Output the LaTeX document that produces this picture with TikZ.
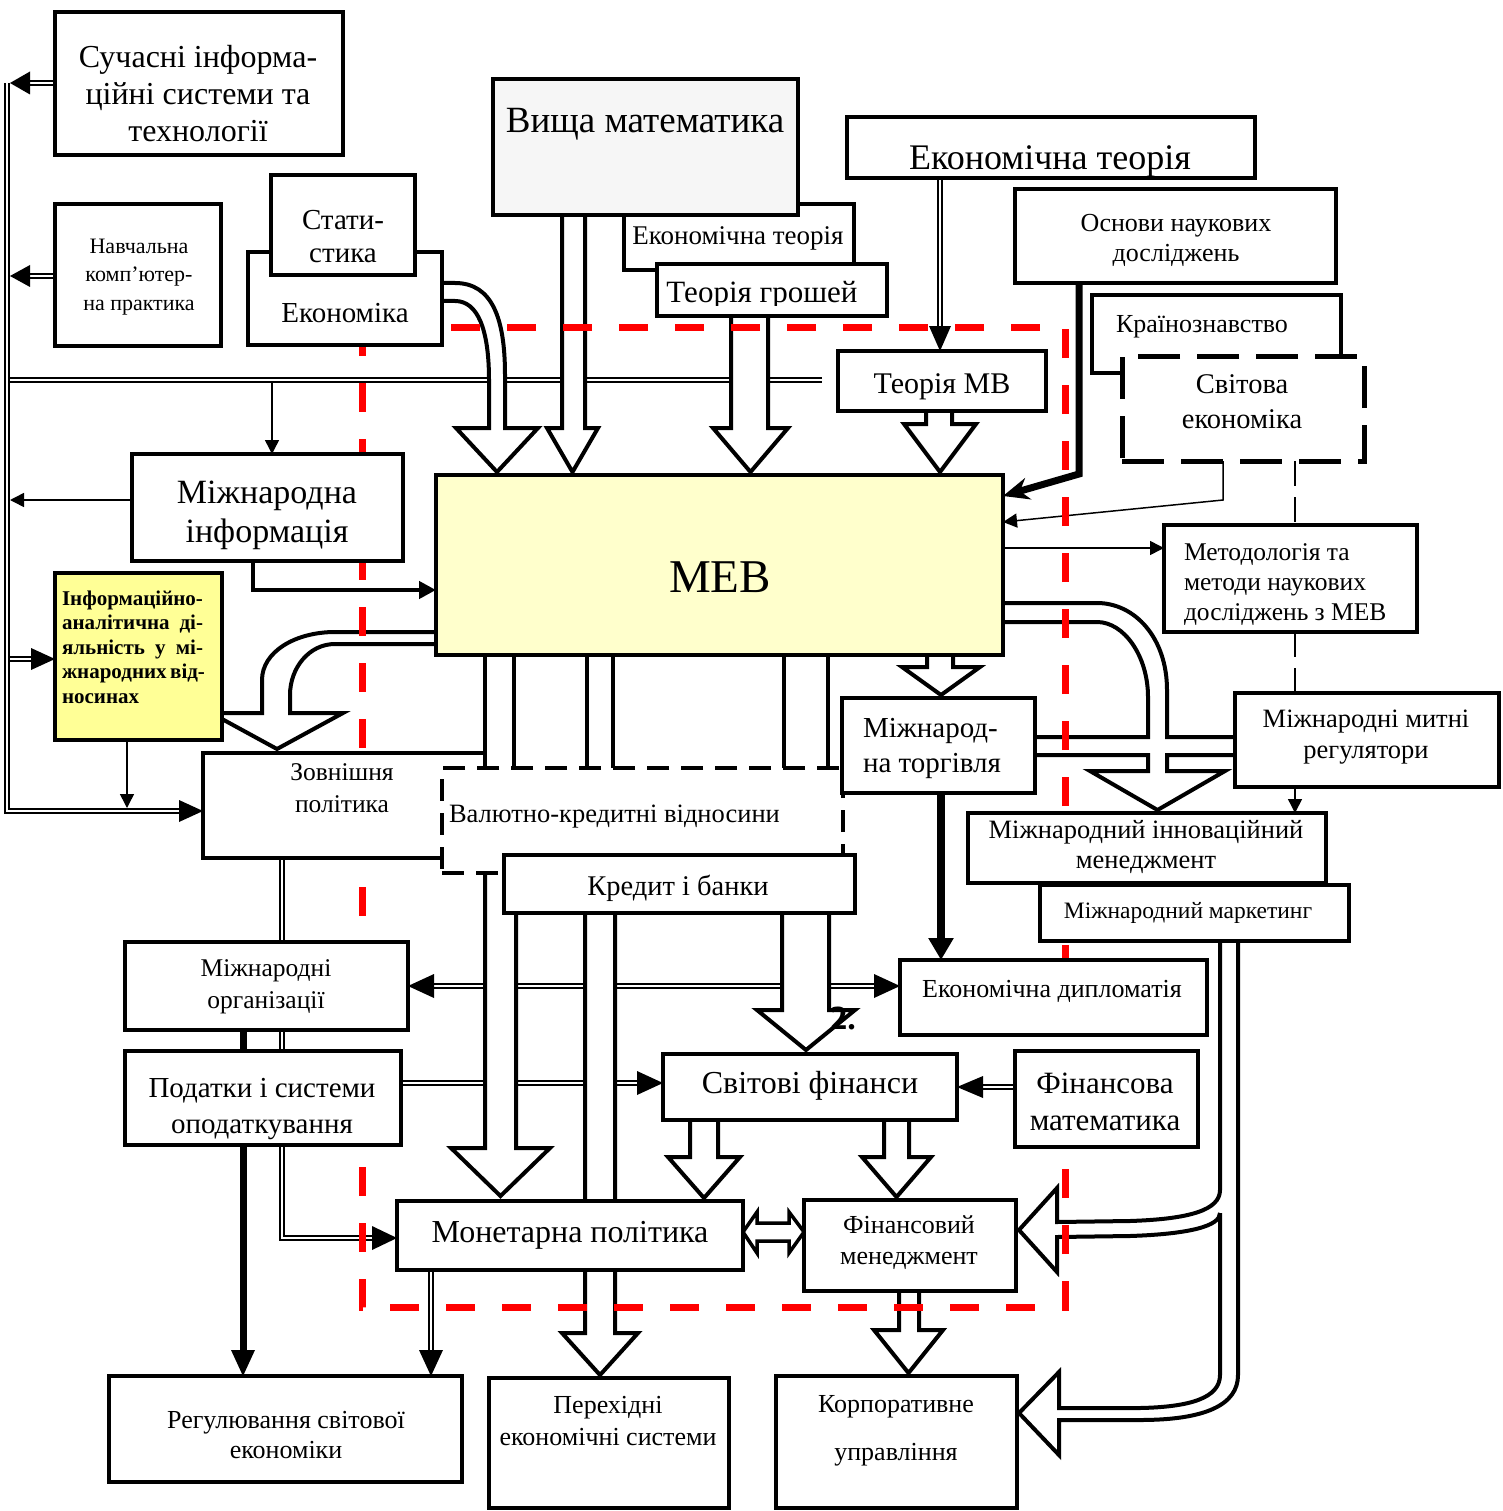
\documentclass[tikz,border=0pt]{standalone}
\usepackage{fontspec}
\setmainfont{Liberation Serif}
\usetikzlibrary{arrows.meta}
\pgfdeclarelayer{lines}
\pgfdeclarelayer{reds}
\pgfsetlayers{lines,reds,main}
\definecolor{mebfill}{RGB}{255,255,204}
\definecolor{iadfill}{RGB}{255,255,150}
\definecolor{vmfill}{RGB}{246,246,246}
\newcommand\fsz[2]{\fontsize{#1}{#2}\selectfont}
\newcommand\bx[6][]{\node[frm,#1,minimum width={(#5)-(#3)},minimum height={(#6)-(#4)}] (#2) at ({((#3)+(#5))/2},{((#4)+(#6))/2}) {};}
\newcommand\ahead[4]{\fill[shift={#1},rotate=#2] (0,0) -- (-#3,#4) -- (-#3,-#4) -- cycle;}
\newcommand\blockdown[7]{\filldraw[blk] (#1,#3) -- (#1,#4) -- (#5,#4) -- ({((#5)+(#6))/2},#7) -- (#6,#4) -- (#2,#4) -- (#2,#3);}
\tikzset{
  frm/.style={draw,line width=4.5pt,fill=white,inner sep=0pt,outer sep=0pt,rectangle},
  lbl/.style={inner sep=0pt,outer sep=0pt,align=center,anchor=base},
  dbl/.style={double=white,double distance=2.6pt,line width=1.7pt},
  thinarr/.style={line width=1.5pt,-{Triangle[length=14pt,width=14pt]}},
  blk/.style={draw=black,fill=white,line width=4pt,line join=miter},
  reddash/.style={draw=red,line width=7pt,dash pattern=on 29pt off 27pt},
  tdash/.style={line width=2pt,dash pattern=on 25pt off 11pt},
}
\begin{document}
\begin{tikzpicture}[x=1pt,y=-1pt]
\useasboundingbox (0,0) rectangle (1502,1511);
% ---------------- boxes ----------------
\bx{et2}{624}{204}{854}{270}
\bx[fill=vmfill]{vm}{493}{79}{798}{215}
\bx{tg}{657}{264}{887}{316}
\bx{et1}{847}{117}{1255}{178}
\bx{onv}{1015}{189}{1336}{283}
\bx{kr}{1092}{295}{1341}{373}
\bx[dash pattern=on 42pt off 17pt,line width=5pt]{sveco}{1122}{356}{1364}{461}
\bx{tmv}{838}{351}{1046}{411}
\bx{sis}{55}{12}{343}{155}
\bx{nkp}{55}{204}{221}{346}
\bx{ekon}{248}{252}{442}{345}
\bx{stat}{271}{175}{415}{275}
\bx[fill=mebfill]{meb}{436}{475}{1003}{655}
\bx{mi}{132}{454}{403}{561}
\bx[fill=iadfill]{iad}{55}{573}{222}{740}
\bx{zp}{203}{753}{485}{858}
\bx[dash pattern=on 22pt off 12pt,line width=4pt]{vkv}{442}{768}{843}{873}
\bx{kb}{504}{855}{855}{913}
\bx{mt}{842}{698}{1035}{793}
\bx{meth}{1164}{525}{1417}{632}
\bx{mmr}{1235}{693}{1499}{787}
\bx{mim}{968}{813}{1326}{883}
\bx{mm}{1040}{885}{1349}{941}
\bx{ed}{900}{960}{1207}{1035}
\bx{mo}{125}{942}{408}{1030}
\bx{pod}{125}{1051}{401}{1145}
\bx{sf}{663}{1054}{957}{1120}
\bx{fmat}{1015}{1051}{1198}{1147}
\bx{mp}{397}{1201}{743}{1270}
\bx{fm}{804}{1200}{1016}{1291}
\bx{reg}{109}{1376}{462}{1482}
\bx{pes}{489}{1378}{729}{1508}
\bx{ku}{776}{1376}{1017}{1508}
% ---------------- texts (base = last line) ----------------
\node[lbl,font=\fsz{32}{37}] (sisT) at (198,142) {Сучасні інформа-\\ційні системи та\\технології};
\node[lbl,font=\fsz{22}{28.5}] (nkpT) at (139,310) {Навчальна\\комп’ютер-\\на практика};
\node[lbl,font=\fsz{29}{33}] (statT) at (343,263) {Стати-\\стика};
\node[lbl,font=\fsz{29}{33}] (ekonT) at (345,323) {Економіка};
\node[lbl,font=\fsz{37}{40}] (vmT) at (645,133) {Вища математика};
\node[lbl,font=\fsz{27}{30}] (et2T) at (738,245) {Економічна теорія};
\begin{scope}
\clip (650,266) rectangle (895,306);
\node[lbl,font=\fsz{31}{34}] (tgT) at (762,303) {Теорія грошей};
\end{scope}
\node[lbl,font=\fsz{36}{38}] (et1T) at (1050,170) {Економічна теорія};
\node[lbl,font=\fsz{26}{30}] (onvT) at (1176,262) {Основи наукових\\досліджень};
\node[lbl,font=\fsz{26}{30}] (krT) at (1202,332) {Країнознавство};
\node[lbl,font=\fsz{28.5}{35}] (svT) at (1242,428) {Світова\\економіка};
\node[lbl,font=\fsz{30}{34}] (tmvT) at (942,393) {Теорія МВ};
\node[lbl,font=\fsz{47}{50}] (mebT) at (720,592) {МЕВ};
\node[lbl,font=\fsz{34}{39}] (miT) at (267,542) {Міжнародна\\інформація};
\node[lbl,anchor=base west,align=left,font=\bfseries\fsz{21}{24.5}] (iadT) at (62,703) {Інформаційно-\\\makebox[141pt][s]{аналітична ді-}\\\makebox[141pt][s]{яльність у мі-}\\\makebox[141pt][s]{жнародних від-}\\носинах};
\node[lbl,font=\fsz{25.5}{32}] (zpT) at (342,812) {Зовнішня\\політика};
\node[lbl,anchor=base west,font=\fsz{26.5}{28}] (vkvT) at (449,822) {Валютно-кредитні відносини};
\node[lbl,font=\fsz{28.5}{30}] (kbT) at (678,895) {Кредит і банки};
\node[lbl,anchor=base west,align=left,font=\fsz{29}{35}] (mtT) at (863,772) {Міжнарод-\\на торгівля};
\node[lbl,anchor=base west,align=left,font=\fsz{25.5}{30}] (methT) at (1184,620) {Методологія та\\методи наукових\\досліджень з МЕВ};
\node[lbl,font=\fsz{26.5}{31}] (mmrT) at (1366,758) {Міжнародні митні\\регулятори};
\node[lbl,font=\fsz{26.5}{30}] (mimT) at (1146,868) {Міжнародний інноваційний\\менеджмент};
\node[lbl,font=\fsz{23.5}{26}] (mmT) at (1188,918) {Міжнародний маркетинг};
\node[lbl,font=\fsz{26}{28}] (edT) at (1052,997) {Економічна дипломатія};
\node[lbl,font=\fsz{25.5}{32}] (moT) at (266,1008) {Міжнародні\\організації};
\node[lbl,font=\fsz{29}{36}] (podT) at (262,1133) {Податки і системи\\оподаткування};
\node[lbl,font=\fsz{32}{34}] (sfT) at (810,1093) {Світові фінанси};
\node[lbl,font=\fsz{31}{37}] (fmatT) at (1105,1130) {Фінансова\\математика};
\node[lbl,font=\fsz{32}{34}] (mpT) at (570,1242) {Монетарна політика};
\node[lbl,font=\fsz{26}{31}] (fmT) at (909,1264) {Фінансовий\\менеджмент};
\node[lbl,font=\fsz{26}{30}] (regT) at (286,1458) {Регулювання світової\\економіки};
\node[lbl,font=\fsz{26}{32}] (pesT) at (608,1445) {Перехідні\\економічні системи};
\node[lbl,font=\fsz{26}{48}] (kuT) at (896,1460) {Корпоративне\\управління};
\node[lbl,font=\bfseries\fsz{34}{34}] (twoT) at (843,1029) {2.};
% ---------------- connectors ----------------
\begin{pgfonlayer}{lines}
\coordinate (busT) at (7,83);
\coordinate (busB) at (7,811);
\draw[dbl] (busT) -- (busB) -- (181,811);
\ahead{(zp.west |- busB)}{0}{24}{11}
\draw[dbl] (sis.west |- 0,83) -- (30,83); \ahead{(10,83)}{180}{20}{11.5}
\draw[dbl] (nkp.west |- 0,276) -- (30,276); \ahead{(10,276)}{180}{20}{11}
\draw[dbl] (10,659) -- (34,659); \ahead{(iad.west |- 0,659)}{0}{24}{11}
\draw[dbl] (10,380) -- (822,380);
\draw[thinarr] (272,382) -- (mi.north -| 272,0);
\draw[thinarr] (mi.west |- 0,500) -- (10,500);
\draw[thinarr] (iad.south -| 127,0) -- (127,808);
\draw[line width=4.5pt,-{Triangle[length=17pt,width=17pt]}] (mi.south -| 253,0) -- (253,590) -- (meb.west |- 0,590);
\draw[dbl] (et1.south -| 940,0) -- (940,328); \ahead{(tmv.north -| 940,0)}{-90}{25}{11}
\draw[line width=7pt,-{Stealth[length=26pt,width=22pt]}] (onv.south -| 1079,0) -- (1079,474) -- (meb.east |- 0,496);
\draw[thinarr] (sveco.south -| 1223,0) -- (1223,500) -- (meb.east |- 0,522);
\draw[thinarr] (meb.east |- 0,548) -- (meth.west |- 0,548);
\draw[tdash] (sveco.south -| 1295,0) -- (meth.north -| 1295,0);
\draw[tdash] (meth.south -| 1295,0) -- (mmr.north -| 1295,0);
\draw[thinarr] (mmr.south -| 1295,0) -- (mim.north -| 1295,0);
\draw[line width=8pt,-{Triangle[length=22pt,width=24pt]}] (mt.south -| 941,0) -- (ed.north -| 941,0);
\draw[dbl] (434,986) -- (874,986);
\ahead{(mo.east |- 0,986)}{180}{26}{12}
\ahead{(ed.west |- 0,986)}{0}{26}{12}
\draw[dbl] (pod.east |- 0,1083) -- (637,1083); \ahead{(sf.west |- 0,1083)}{0}{26}{12}
\draw[dbl] (fmat.west |- 0,1087) -- (983,1087); \ahead{(sf.east |- 0,1087)}{180}{26}{11}
\draw[dbl] (zp.south -| 282,0) -- (mo.north -| 282,0);
\draw[dbl] (mo.south -| 282,0) -- (pod.north -| 282,0);
\draw[line width=7pt] (mo.south -| 243,0) -- (pod.north -| 243,0);
\draw[line width=7pt] (pod.south -| 243,0) -- (243,1352); \ahead{(reg.north -| 243,0)}{-90}{26}{12}
\draw[dbl] (pod.south -| 282,0) -- (282,1238) -- (373,1238); \ahead{(mp.west |- 0,1238)}{0}{25}{12}
\draw[dbl] (mp.south -| 431,0) -- (431,1352); \ahead{(reg.north -| 431,0)}{-90}{26}{12}
\foreach \xx in {485,514,587,613,784,828} {\draw[line width=4pt] (meb.south -| \xx,0) -- (vkv.north -| \xx,0);}
% block arrows
\filldraw[blk] (ekon.east |- 0,283) -- (455,283) .. controls (492,283) and (505,318) .. (505,375) -- (505,428) -- (538,428) -- (497,472) -- (456,428) -- (489,428) -- (489,380) .. controls (489,330) and (478,301) .. (455,301) -- (ekon.east |- 0,301);
\blockdown{562}{585}{214}{428}{547}{598}{472}
\blockdown{731}{768}{315}{428}{713}{788}{472}
\blockdown{926}{952}{412}{424}{904}{976}{472}
\blockdown{927}{953}{655}{667}{902}{980}{695}
\blockdown{690}{718}{1120}{1157}{668}{740}{1198}
\blockdown{884}{909}{1120}{1157}{862}{931}{1197}
\blockdown{899}{919}{1291}{1330}{874}{943}{1373}
\blockdown{485}{516}{873}{1148}{451}{550}{1196}
\blockdown{585}{615}{913}{1333}{562}{638}{1375}
\blockdown{782}{829}{913}{1010}{757}{855}{1050}
\filldraw[blk] (meb.west |- 0,632) -- (335,632) .. controls (295,632) and (262,652) .. (262,680) -- (262,713) -- (211,713) -- (277,749) -- (343,713) -- (290,713) -- (290,695) .. controls (290,668) and (309,644) .. (335,644) -- (meb.west |- 0,644);
\draw[line width=4pt] (meb.east |- 0,603) -- (1097,603) .. controls (1135,603) and (1167,638) .. (1167,690) -- (1167,737) -- (mmr.west |- 0,737);
\draw[line width=4pt] (mt.east |- 0,737) -- (1148,737) -- (1148,697) .. controls (1148,656) and (1124,622) .. (1097,622) -- (meb.east |- 0,622);
\filldraw[blk] (mt.east |- 0,755) -- (1148,755) -- (1148,771) -- (1090,771) -- (1157.5,810) -- (1225,771) -- (1167,771) -- (1167,755) -- (mmr.west |- 0,755);
\draw[line width=4pt] (mm.south -| 1220,0) -- (1220,1190) .. controls (1220,1210) and (1190,1219) .. (1130,1221) -- (1057,1222) -- (1057,1188) -- (1019,1230) -- (1057,1272) -- (1057,1237) -- (1130,1236) .. controls (1190,1234) and (1220,1226) .. (1220,1213);
\draw[line width=4pt] (1220,1213) -- (1220,1375) .. controls (1220,1398) and (1190,1407) .. (1140,1408) -- (1059,1408) -- (1059,1372) -- (1019,1413) -- (1059,1455) -- (1059,1420) -- (1140,1420) .. controls (1205,1420) and (1238,1405) .. (1238,1375) -- (mm.south -| 1238,0);
\filldraw[blk,line width=3.5pt] (mp.east |- 0,1232) -- (757,1212) -- (757,1223) -- (789,1223) -- (789,1212) -- (fm.west |- 0,1232) -- (789,1253) -- (789,1241) -- (757,1241) -- (757,1253) -- cycle;
\end{pgfonlayer}
\begin{pgfonlayer}{reds}
\draw[reddash] (362,327) rectangle (1065,1307);
\end{pgfonlayer}
\end{tikzpicture}
\end{document}
